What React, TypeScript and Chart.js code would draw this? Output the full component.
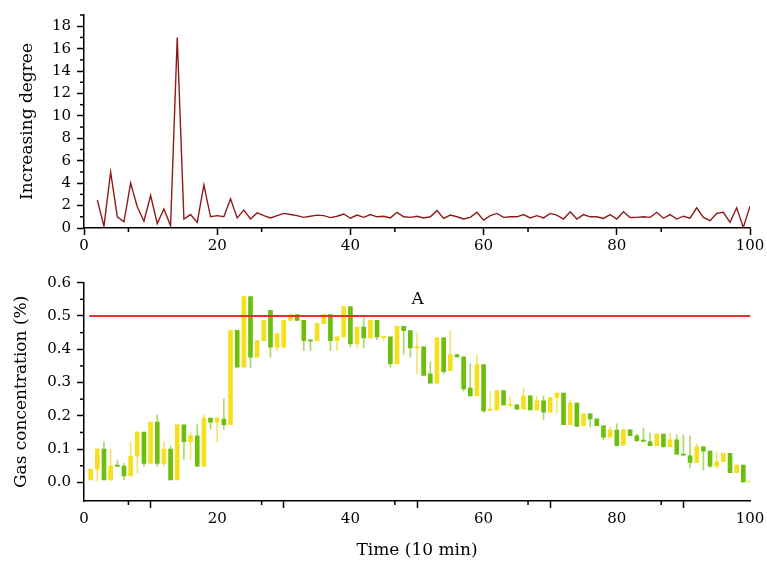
import React, { useEffect, useRef } from 'react';
import { Chart, registerables } from 'chart.js';

Chart.register(...registerables);

const FONT = "'DejaVu Serif', serif";
const YELLOW = '#F4E01C';
const GREEN = '#6CBF0B';
const YELLOW_WICK = 'rgba(236, 222, 60, 0.75)';
const GREEN_WICK = 'rgba(108, 191, 11, 0.6)';

// ---- Top panel: increasing degree ----
const degreeX = [
  2, 3, 4, 5, 6, 7, 8, 9, 10, 11, 12, 13, 14, 15, 16, 17, 18, 19, 20, 21,
  22, 23, 24, 25, 26, 27, 28, 29, 30, 31, 32, 33, 34, 35, 36, 37, 38, 39, 40, 41,
  42, 43, 44, 45, 46, 47, 48, 49, 50, 51, 52, 53, 54, 55, 56, 57, 58, 59, 60, 61,
  62, 63, 64, 65, 66, 67, 68, 69, 70, 71, 72, 73, 74, 75, 76, 77, 78, 79, 80, 81,
  82, 83, 84, 85, 86, 87, 88, 89, 90, 91, 92, 93, 94, 95, 96, 97, 98, 99, 100,
];
const degreeValues = [
  2.5, 0.15, 5.0, 1.0, 0.55, 4.0, 1.9, 0.6, 2.9, 0.4, 1.7, 0.2, 17.0, 0.8, 1.2, 0.5, 3.85, 1.0, 1.1, 1.0,
  2.6, 0.9, 1.6, 0.8, 1.35, 1.1, 0.9, 1.1, 1.3, 1.2, 1.1, 0.95, 1.05, 1.15, 1.1, 0.93, 1.05, 1.25, 0.87, 1.15,
  0.95, 1.2, 1.0, 1.05, 0.9, 1.4, 1.0, 0.95, 1.05, 0.9, 1.0, 1.55, 0.85, 1.15, 1.0, 0.8, 0.95, 1.4, 0.7, 1.1,
  1.3, 0.95, 1.0, 1.0, 1.2, 0.9, 1.1, 0.9, 1.3, 1.15, 0.8, 1.45, 0.8, 1.2, 1.0, 1.0, 0.85, 1.2, 0.8, 1.45,
  0.93, 0.95, 1.0, 0.95, 1.4, 0.87, 1.2, 0.8, 1.05, 0.87, 1.8, 0.95, 0.65, 1.3, 1.4, 0.5, 1.8, 0.05, 1.95,
];
const topXTicks = [0, 20, 40, 60, 80, 100];
const topXMinorTicks = [6.67, 26.67, 46.67, 66.67, 86.67];
const topYTicks = [0, 2, 4, 6, 8, 10, 12, 14, 16, 18];
const topYMinorTicks = [1, 3, 5, 7, 9, 11, 13, 15, 17, 19];

// ---- Bottom panel: gas concentration candles ----
const timeIndex = Array.from({ length: 100 }, (_, i) => i + 1);
const candleOpen = [
  0.007, 0.040, 0.100, 0.007, 0.052, 0.049, 0.019, 0.079, 0.151, 0.057,
  0.181, 0.057, 0.100, 0.007, 0.173, 0.122, 0.140, 0.049, 0.193, 0.181,
  0.190, 0.173, 0.457, 0.346, 0.558, 0.376, 0.426, 0.517, 0.406, 0.406,
  0.487, 0.504, 0.487, 0.428, 0.426, 0.477, 0.504, 0.426, 0.437, 0.528,
  0.416, 0.467, 0.434, 0.487, 0.435, 0.437, 0.356, 0.469, 0.456, 0.404,
  0.407, 0.326, 0.298, 0.434, 0.336, 0.384, 0.377, 0.283, 0.260, 0.354,
  0.216, 0.218, 0.276, 0.231, 0.233, 0.220, 0.260, 0.218, 0.245, 0.211,
  0.256, 0.268, 0.173, 0.238, 0.170, 0.206, 0.191, 0.170, 0.136, 0.157,
  0.112, 0.158, 0.140, 0.127, 0.122, 0.110, 0.145, 0.107, 0.128, 0.085,
  0.080, 0.060, 0.107, 0.094, 0.049, 0.062, 0.087, 0.029, 0.052, 0.000,
];
const candleClose = [
  0.040, 0.100, 0.007, 0.049, 0.048, 0.019, 0.079, 0.151, 0.057, 0.181,
  0.057, 0.100, 0.007, 0.173, 0.122, 0.140, 0.049, 0.193, 0.181, 0.193,
  0.173, 0.457, 0.346, 0.558, 0.376, 0.426, 0.487, 0.406, 0.447, 0.487,
  0.504, 0.487, 0.426, 0.424, 0.477, 0.504, 0.426, 0.437, 0.528, 0.416,
  0.467, 0.434, 0.487, 0.437, 0.439, 0.356, 0.469, 0.456, 0.404, 0.408,
  0.321, 0.298, 0.434, 0.333, 0.384, 0.377, 0.281, 0.260, 0.354, 0.215,
  0.220, 0.276, 0.233, 0.235, 0.220, 0.260, 0.218, 0.245, 0.211, 0.255,
  0.268, 0.173, 0.238, 0.168, 0.206, 0.191, 0.170, 0.136, 0.158, 0.110,
  0.158, 0.140, 0.125, 0.123, 0.110, 0.145, 0.107, 0.128, 0.085, 0.082,
  0.060, 0.107, 0.094, 0.049, 0.062, 0.087, 0.029, 0.052, 0.000, 0.004,
];
const candleHigh = [
  0.040, 0.100, 0.122, 0.100, 0.065, 0.057, 0.122, 0.151, 0.151, 0.181,
  0.203, 0.122, 0.109, 0.173, 0.173, 0.151, 0.173, 0.203, 0.193, 0.193,
  0.251, 0.457, 0.457, 0.558, 0.558, 0.426, 0.487, 0.517, 0.447, 0.487,
  0.504, 0.504, 0.487, 0.428, 0.477, 0.504, 0.504, 0.437, 0.528, 0.528,
  0.467, 0.494, 0.487, 0.487, 0.439, 0.437, 0.469, 0.469, 0.456, 0.449,
  0.407, 0.362, 0.434, 0.434, 0.456, 0.384, 0.377, 0.356, 0.382, 0.354,
  0.273, 0.276, 0.276, 0.256, 0.233, 0.283, 0.260, 0.258, 0.260, 0.255,
  0.268, 0.268, 0.248, 0.238, 0.206, 0.206, 0.191, 0.170, 0.165, 0.176,
  0.163, 0.158, 0.145, 0.163, 0.148, 0.145, 0.145, 0.148, 0.143, 0.143,
  0.140, 0.115, 0.107, 0.094, 0.092, 0.087, 0.087, 0.052, 0.052, 0.004,
];
const candleLow = [
  0.007, 0.002, 0.007, 0.007, 0.048, 0.007, 0.019, 0.029, 0.049, 0.057,
  0.049, 0.049, 0.007, 0.007, 0.069, 0.069, 0.049, 0.049, 0.160, 0.122,
  0.160, 0.173, 0.346, 0.346, 0.344, 0.376, 0.426, 0.376, 0.396, 0.406,
  0.487, 0.487, 0.396, 0.396, 0.426, 0.477, 0.396, 0.396, 0.437, 0.406,
  0.404, 0.404, 0.434, 0.429, 0.426, 0.346, 0.356, 0.386, 0.376, 0.326,
  0.321, 0.298, 0.298, 0.326, 0.336, 0.377, 0.275, 0.260, 0.260, 0.210,
  0.216, 0.218, 0.233, 0.226, 0.220, 0.220, 0.218, 0.218, 0.188, 0.211,
  0.208, 0.173, 0.173, 0.168, 0.170, 0.166, 0.170, 0.128, 0.136, 0.110,
  0.112, 0.140, 0.123, 0.123, 0.110, 0.110, 0.105, 0.107, 0.085, 0.082,
  0.044, 0.060, 0.037, 0.044, 0.042, 0.062, 0.029, 0.029, 0.000, 0.000,
];
const alarmLevel = 0.5;
const alarmStart = 0.8;
const alarmEnd = 100;
const alarmLabel = 'A';
const bottomXTicks = [0, 20, 40, 60, 80, 100];
const bottomXMinorTicks = [6.67, 26.67, 46.67, 66.67, 86.67];
const bottomYTicks = [0, 0.1, 0.2, 0.3, 0.4, 0.5, 0.6];
const bottomYMinorTicks = [0.05, 0.15, 0.25, 0.35, 0.45, 0.55];

const minorTicksPlugin = {
  id: 'minorTicks',
  afterDraw(chart: any, _args: any, opts: any) {
    const ctx = chart.ctx;
    const xs = chart.scales.x;
    const ys = chart.scales.y;
    ctx.save();
    ctx.strokeStyle = '#000';
    ctx.lineWidth = 1.5;
    (opts.x || []).forEach((v: number) => {
      const px = xs.getPixelForValue(v);
      ctx.beginPath();
      ctx.moveTo(px, xs.top);
      ctx.lineTo(px, xs.top + 4);
      ctx.stroke();
    });
    (opts.y || []).forEach((v: number) => {
      const py = ys.getPixelForValue(v);
      ctx.beginPath();
      ctx.moveTo(ys.right, py);
      ctx.lineTo(ys.right - 4, py);
      ctx.stroke();
    });
    ctx.restore();
  },
};

const textLabelPlugin = {
  id: 'textLabel',
  afterDatasetsDraw(chart: any, _args: any, opts: any) {
    if (!opts || !opts.text) return;
    const ctx = chart.ctx;
    const px = chart.scales.x.getPixelForValue(opts.x);
    const py = chart.scales.y.getPixelForValue(opts.y);
    ctx.save();
    ctx.fillStyle = '#000';
    ctx.font = `17px ${FONT}`;
    ctx.textAlign = 'center';
    ctx.textBaseline = 'middle';
    ctx.fillText(opts.text, px, py);
    ctx.restore();
  },
};

const axisCommon = {
  grid: { drawOnChartArea: false, tickLength: 7, tickColor: '#000', tickWidth: 1.5 },
  border: { color: '#000', width: 1.5 },
};

export default function App() {
  const topRef = useRef<HTMLCanvasElement>(null);
  const bottomRef = useRef<HTMLCanvasElement>(null);

  useEffect(() => {
    Chart.defaults.font.family = FONT;
    Chart.defaults.color = '#000';

    const topChart = new Chart(topRef.current as HTMLCanvasElement, {
      type: 'line',
      data: {
        datasets: [
          {
            data: degreeX.map((x, i) => ({ x, y: degreeValues[i] })),
            borderColor: '#8E1B1B',
            borderWidth: 1.4,
            pointRadius: 0,
            tension: 0,
          },
        ],
      },
      options: {
        animation: false,
        responsive: false,
        maintainAspectRatio: false,
        layout: { padding: { top: 10, right: 17, left: 0, bottom: 0 } },
        plugins: {
          legend: { display: false },
          tooltip: { enabled: false },
          minorTicks: { x: topXMinorTicks, y: topYMinorTicks },
        } as any,
        scales: {
          x: {
            type: 'linear',
            min: 0,
            max: 100,
            offset: false,
            ...axisCommon,
            afterBuildTicks: (s: any) => {
              s.ticks = topXTicks.map((v) => ({ value: v }));
            },
            afterFit: (s: any) => {
              s.height = 30;
            },
            ticks: { color: '#000', font: { size: 15 }, padding: 2, maxRotation: 0 },
          },
          y: {
            type: 'linear',
            min: 0,
            max: 19,
            ...axisCommon,
            afterBuildTicks: (s: any) => {
              s.ticks = topYTicks.map((v) => ({ value: v }));
            },
            afterFit: (s: any) => {
              s.width = 84;
            },
            ticks: { color: '#000', font: { size: 15 }, padding: 6 },
            title: {
              display: true,
              text: 'Increasing degree',
              color: '#000',
              font: { size: 17, lineHeight: 1 },
              padding: { top: 19, bottom: 0 },
            },
          },
        } as any,
      },
      plugins: [minorTicksPlugin],
    });

    const bodyColors = candleOpen.map((o, i) => (candleClose[i] >= o ? YELLOW : GREEN));
    const wickColors = candleOpen.map((o, i) => (candleClose[i] >= o ? YELLOW_WICK : GREEN_WICK));

    const bottomChart = new Chart(bottomRef.current as HTMLCanvasElement, {
      type: 'bar',
      data: {
        datasets: [
          {
            type: 'bar',
            data: timeIndex.map((x, i) => ({ x, y: [candleLow[i], candleHigh[i]] })),
            backgroundColor: wickColors,
            borderWidth: 0,
            borderSkipped: false,
            barThickness: 1,
            grouped: false,
            order: 3,
          } as any,
          {
            type: 'bar',
            data: timeIndex.map((x, i) => ({
              x,
              y: [Math.min(candleOpen[i], candleClose[i]), Math.max(candleOpen[i], candleClose[i])],
            })),
            backgroundColor: bodyColors,
            borderWidth: 0,
            borderSkipped: false,
            barThickness: 4,
            grouped: false,
            order: 2,
          } as any,
          {
            type: 'line',
            data: [
              { x: alarmStart, y: alarmLevel },
              { x: alarmEnd, y: alarmLevel },
            ],
            borderColor: '#E8302A',
            borderWidth: 2,
            pointRadius: 0,
            order: 1,
          } as any,
        ],
      },
      options: {
        animation: false,
        responsive: false,
        maintainAspectRatio: false,
        layout: { padding: { top: 24.7, right: 17, left: 0, bottom: 0 } },
        plugins: {
          legend: { display: false },
          tooltip: { enabled: false },
          minorTicks: { x: bottomXMinorTicks, y: bottomYMinorTicks },
          textLabel: { text: alarmLabel, x: 50.1, y: 0.548 },
        } as any,
        scales: {
          x: {
            type: 'linear',
            min: 0,
            max: 100,
            offset: false,
            ...axisCommon,
            afterBuildTicks: (s: any) => {
              s.ticks = bottomXTicks.map((v) => ({ value: v }));
            },
            afterFit: (s: any) => {
              s.height = 66;
            },
            ticks: { color: '#000', font: { size: 15 }, padding: 2, maxRotation: 0 },
            title: {
              display: true,
              text: 'Time (10 min)',
              color: '#000',
              font: { size: 17, lineHeight: 1 },
              padding: { top: 0, bottom: 7.5 },
            },
          },
          y: {
            type: 'linear',
            min: -0.056,
            max: 0.6,
            ...axisCommon,
            afterBuildTicks: (s: any) => {
              s.ticks = bottomYTicks.map((v) => ({ value: v }));
            },
            afterFit: (s: any) => {
              s.width = 84;
            },
            ticks: {
              color: '#000',
              font: { size: 15 },
              padding: 6,
              callback: (v: any) => Number(v).toFixed(1),
            },
            title: {
              display: true,
              text: 'Gas concentration (%)',
              color: '#000',
              font: { size: 17, lineHeight: 1 },
              padding: { top: 13.5, bottom: 0 },
            },
          },
        } as any,
      },
      plugins: [minorTicksPlugin, textLabelPlugin],
    });

    return () => {
      topChart.destroy();
      bottomChart.destroy();
    };
  }, []);

  return (
    <div style={{ position: 'fixed', left: 0, top: 0, width: 767, height: 567, background: '#fff' }}>
      <canvas
        ref={topRef}
        width={767}
        height={258}
        style={{ position: 'absolute', left: 0, top: 0, display: 'block' }}
      />
      <canvas
        ref={bottomRef}
        width={767}
        height={309}
        style={{ position: 'absolute', left: 0, top: 258, display: 'block' }}
      />
    </div>
  );
}
